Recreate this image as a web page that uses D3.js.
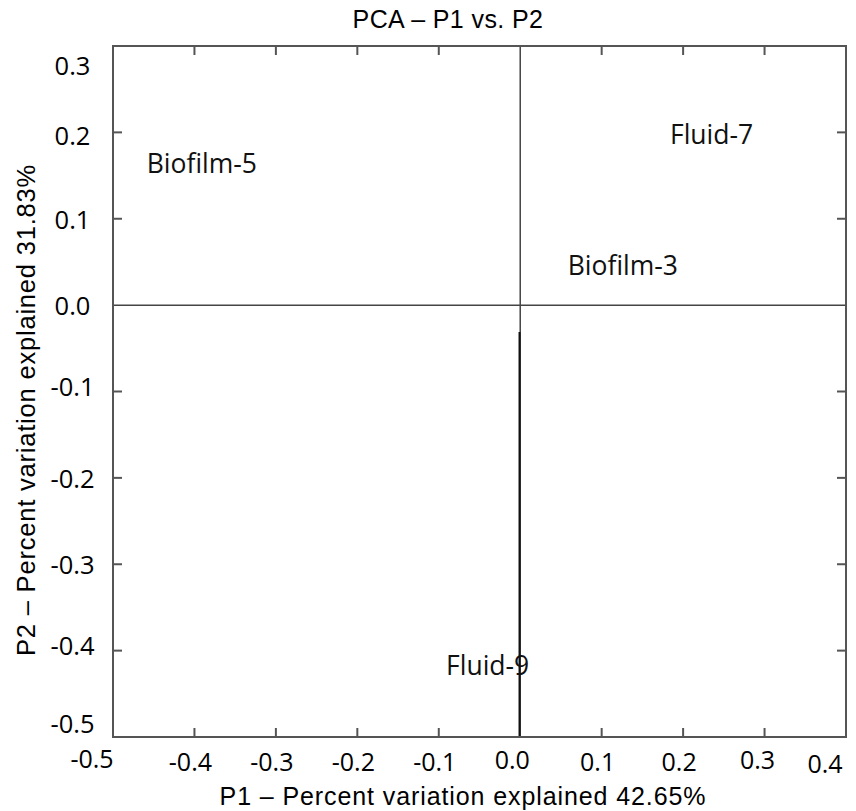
<!DOCTYPE html>
<html>
<head>
<meta charset="utf-8">
<script src="https://cdn.jsdelivr.net/npm/d3@7"></script>
<style>
    body { margin: 0; background: #fff; }
    .narrow { font-family: "Liberation Sans", sans-serif; }
    .wide { font-family: "Open Sans", "Noto Sans", sans-serif; }
</style>
</head>
<body>
<div id="chart"></div>
<script>
// PCA scores
var samples = ["Biofilm-5", "Fluid-7", "Biofilm-3", "Fluid-9"];
var p1Scores = [-0.391, 0.235, 0.126, -0.040];
var p2Scores = [0.164, 0.198, 0.046, -0.417];

// the dark segment running down the P2 axis
var segP1 = [0];
var segP2From = [-0.031];
var segP2To = [-0.5];

var xTicks = [-0.5, -0.4, -0.3, -0.2, -0.1, 0.0, 0.1, 0.2, 0.3, 0.4];
var yTicks = [0.3, 0.2, 0.1, 0.0, -0.1, -0.2, -0.3, -0.4, -0.5];

var titleText = "PCA \u2013 P1 vs. P2";
var xLabelText = "P1 \u2013 Percent variation explained 42.65%";
var yLabelText = "P2 \u2013 Percent variation explained 31.83%";

var W = 856, H = 811;
var margin = {top: 46, right: 10, bottom: 74, left: 113};
var width = W - margin.left - margin.right,
    height = H - margin.top - margin.bottom;

var x = d3.scaleLinear().domain([-0.5, 0.4]).range([0, width]);
var y = d3.scaleLinear().domain([-0.5, 0.3]).range([height, 0]);

var svg = d3.select("#chart").append("svg")
    .attr("width", W)
    .attr("height", H);

var g = svg.append("g")
    .attr("transform", "translate(" + margin.left + "," + margin.top + ")");

var frameColor = "#555";
var tickLen = 9;

// inner ticks on all four sides (skip zero, the zero lines cover it)
var innerX = xTicks.filter(function(d) { return d !== 0 && d > -0.5 && d < 0.4; });
var innerY = yTicks.filter(function(d) { return d !== 0 && d > -0.5 && d < 0.3; });

g.selectAll(".tickB").data(innerX).enter().append("line")
    .attr("x1", function(d) { return x(d); })
    .attr("x2", function(d) { return x(d); })
    .attr("y1", height)
    .attr("y2", height - tickLen)
    .style("stroke", frameColor).style("stroke-width", 2);
g.selectAll(".tickT").data(innerX).enter().append("line")
    .attr("x1", function(d) { return x(d); })
    .attr("x2", function(d) { return x(d); })
    .attr("y1", 0)
    .attr("y2", tickLen)
    .style("stroke", frameColor).style("stroke-width", 2);
g.selectAll(".tickL").data(innerY).enter().append("line")
    .attr("x1", 0)
    .attr("x2", tickLen)
    .attr("y1", function(d) { return y(d); })
    .attr("y2", function(d) { return y(d); })
    .style("stroke", frameColor).style("stroke-width", 2);
g.selectAll(".tickR").data(innerY).enter().append("line")
    .attr("x1", width)
    .attr("x2", width - tickLen)
    .attr("y1", function(d) { return y(d); })
    .attr("y2", function(d) { return y(d); })
    .style("stroke", frameColor).style("stroke-width", 2);

// zero lines
g.append("line")
    .attr("x1", 0).attr("x2", width)
    .attr("y1", y(0)).attr("y2", y(0))
    .style("stroke", "#444").style("stroke-width", 1.5);
g.append("line")
    .attr("x1", x(0)).attr("x2", x(0))
    .attr("y1", 0).attr("y2", height)
    .style("stroke", "#444").style("stroke-width", 1.5);

g.selectAll(".seg").data(segP1).enter().append("line")
    .attr("x1", function(d) { return x(d) - 0.7; })
    .attr("x2", function(d) { return x(d) - 0.7; })
    .attr("y1", function(d, i) { return y(segP2From[i]); })
    .attr("y2", function(d, i) { return y(segP2To[i]); })
    .style("stroke", "#111").style("stroke-width", 2);

// frame
g.append("rect")
    .attr("width", width)
    .attr("height", height)
    .style("fill", "none")
    .style("stroke", frameColor)
    .style("stroke-width", 2);

// tick labels
var xNudge = {"-0.5": [-21, -3], "0.4": [-21, 2], "0": [-8, -2], "0.3": [-7, -2]};
g.selectAll(".xLab").data(xTicks).enter().append("text")
    .attr("class", "wide")
    .attr("x", function(d) { return x(d) + (xNudge[d] ? xNudge[d][0] : -4); })
    .attr("y", function(d) { return height + 25 + (xNudge[d] ? xNudge[d][1] : 0); })
    .attr("dy", "0.35em")
    .attr("text-anchor", "middle")
    .attr("font-size", 25)
    .text(function(d) { return d.toFixed(1); });

var yNudge = {"0.3": 20, "-0.5": -13, "-0.4": -5, "-0.1": -4, "0.2": 4};
g.selectAll(".yLab").data(yTicks).enter().append("text")
    .attr("class", "wide")
    .attr("x", -40.5)
    .attr("y", function(d) { return y(d) + (yNudge[d] || 1); })
    .attr("dy", "0.35em")
    .attr("text-anchor", "middle")
    .attr("font-size", 25.5)
    .text(function(d) { return d.toFixed(1); });

// sample labels at their scores
g.selectAll(".sample").data(samples).enter().append("text")
    .attr("class", "wide")
    .attr("x", function(d, i) { return x(p1Scores[i]); })
    .attr("y", function(d, i) { return y(p2Scores[i]); })
    .attr("dy", "0.36em")
    .attr("text-anchor", "middle")
    .attr("font-size", 26.5)
    .style("fill", "#111")
    .text(function(d) { return d; });

// titles
svg.append("text")
    .attr("class", "narrow")
    .attr("x", 448)
    .attr("y", 28)
    .attr("text-anchor", "middle")
    .attr("font-size", 25)
    .style("letter-spacing", "0.4px")
    .text(titleText);

svg.append("text")
    .attr("class", "narrow")
    .attr("x", 463)
    .attr("y", 805)
    .attr("text-anchor", "middle")
    .attr("font-size", 25)
    .style("letter-spacing", "0.9px")
    .text(xLabelText);

svg.append("text")
    .attr("class", "narrow")
    .attr("transform", "translate(35,410) rotate(-90)")
    .attr("text-anchor", "middle")
    .attr("font-size", 25.5)
    .style("letter-spacing", "0.8px")
    .text(yLabelText);
</script>
</body>
</html>
